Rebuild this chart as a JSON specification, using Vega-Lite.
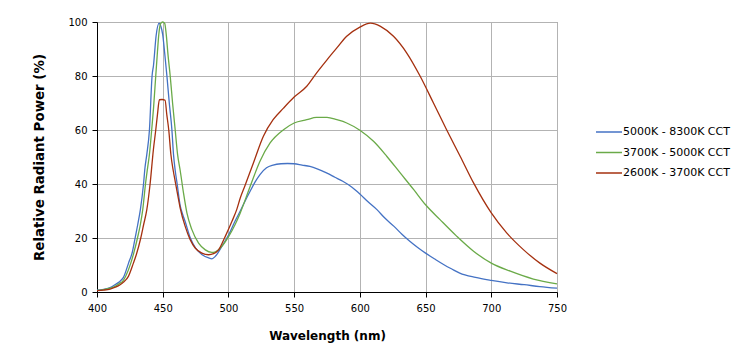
{
  "$schema": "https://vega.github.io/schema/vega-lite/v6.json",
  "autosize": "none",
  "width": 460,
  "height": 270,
  "padding": {"left": 97, "top": 22, "right": 186, "bottom": 72},
  "background": "white",
  "config": {
    "font": "DejaVu Sans",
    "view": {"stroke": "#868686", "strokeWidth": 1},
    "axis": {
      "labelFont": "DejaVu Sans", "labelFontSize": 10, "labelColor": "#000",
      "titleFont": "DejaVu Sans", "titleFontWeight": "bold", "titleColor": "#000",
      "domainColor": "#000", "tickColor": "#000", "tickSize": 5,
      "gridColor": "#b3b3b3", "gridWidth": 1, "labelPadding": 5, "labelFlush": false
    }
  },
  "data": {"values": [
    {"s":"5000K - 8300K CCT","w":400,"p":0.7},
    {"s":"5000K - 8300K CCT","w":405,"p":1.0},
    {"s":"5000K - 8300K CCT","w":410,"p":1.6},
    {"s":"5000K - 8300K CCT","w":414,"p":2.8},
    {"s":"5000K - 8300K CCT","w":417.6,"p":4.0},
    {"s":"5000K - 8300K CCT","w":420,"p":5.3},
    {"s":"5000K - 8300K CCT","w":424,"p":10.7},
    {"s":"5000K - 8300K CCT","w":427,"p":15},
    {"s":"5000K - 8300K CCT","w":429,"p":20},
    {"s":"5000K - 8300K CCT","w":431,"p":25},
    {"s":"5000K - 8300K CCT","w":433,"p":30.5},
    {"s":"5000K - 8300K CCT","w":435.4,"p":40},
    {"s":"5000K - 8300K CCT","w":436.5,"p":46},
    {"s":"5000K - 8300K CCT","w":437.9,"p":51},
    {"s":"5000K - 8300K CCT","w":439.9,"p":60},
    {"s":"5000K - 8300K CCT","w":441.9,"p":80},
    {"s":"5000K - 8300K CCT","w":443,"p":84},
    {"s":"5000K - 8300K CCT","w":445,"p":95},
    {"s":"5000K - 8300K CCT","w":447.3,"p":99.6},
    {"s":"5000K - 8300K CCT","w":448.5,"p":98.5},
    {"s":"5000K - 8300K CCT","w":450,"p":95.3},
    {"s":"5000K - 8300K CCT","w":451.4,"p":89},
    {"s":"5000K - 8300K CCT","w":453.2,"p":80},
    {"s":"5000K - 8300K CCT","w":455,"p":70},
    {"s":"5000K - 8300K CCT","w":457,"p":60},
    {"s":"5000K - 8300K CCT","w":458.2,"p":51},
    {"s":"5000K - 8300K CCT","w":459.5,"p":45},
    {"s":"5000K - 8300K CCT","w":461,"p":40},
    {"s":"5000K - 8300K CCT","w":463.3,"p":32},
    {"s":"5000K - 8300K CCT","w":465,"p":29},
    {"s":"5000K - 8300K CCT","w":467,"p":26.2},
    {"s":"5000K - 8300K CCT","w":471,"p":20},
    {"s":"5000K - 8300K CCT","w":475,"p":16.3},
    {"s":"5000K - 8300K CCT","w":480,"p":13.8},
    {"s":"5000K - 8300K CCT","w":485,"p":12.6},
    {"s":"5000K - 8300K CCT","w":487.5,"p":12.3},
    {"s":"5000K - 8300K CCT","w":490,"p":13.2},
    {"s":"5000K - 8300K CCT","w":495,"p":16.9},
    {"s":"5000K - 8300K CCT","w":500,"p":21},
    {"s":"5000K - 8300K CCT","w":505,"p":26.2},
    {"s":"5000K - 8300K CCT","w":509,"p":30},
    {"s":"5000K - 8300K CCT","w":513,"p":34},
    {"s":"5000K - 8300K CCT","w":516.5,"p":37.3},
    {"s":"5000K - 8300K CCT","w":520,"p":40.5},
    {"s":"5000K - 8300K CCT","w":524,"p":43.5},
    {"s":"5000K - 8300K CCT","w":529,"p":46},
    {"s":"5000K - 8300K CCT","w":534,"p":47},
    {"s":"5000K - 8300K CCT","w":540,"p":47.5},
    {"s":"5000K - 8300K CCT","w":545,"p":47.6},
    {"s":"5000K - 8300K CCT","w":550,"p":47.5},
    {"s":"5000K - 8300K CCT","w":556,"p":47},
    {"s":"5000K - 8300K CCT","w":562,"p":46.5},
    {"s":"5000K - 8300K CCT","w":568,"p":45.5},
    {"s":"5000K - 8300K CCT","w":575,"p":44},
    {"s":"5000K - 8300K CCT","w":581,"p":42.5},
    {"s":"5000K - 8300K CCT","w":587,"p":41},
    {"s":"5000K - 8300K CCT","w":594,"p":38.8},
    {"s":"5000K - 8300K CCT","w":600,"p":36.3},
    {"s":"5000K - 8300K CCT","w":606,"p":33.5},
    {"s":"5000K - 8300K CCT","w":613,"p":30.5},
    {"s":"5000K - 8300K CCT","w":619,"p":27.4},
    {"s":"5000K - 8300K CCT","w":626,"p":24.3},
    {"s":"5000K - 8300K CCT","w":632,"p":21.4},
    {"s":"5000K - 8300K CCT","w":638,"p":18.8},
    {"s":"5000K - 8300K CCT","w":644,"p":16.5},
    {"s":"5000K - 8300K CCT","w":650,"p":14.4},
    {"s":"5000K - 8300K CCT","w":657,"p":12.2},
    {"s":"5000K - 8300K CCT","w":664,"p":10.1},
    {"s":"5000K - 8300K CCT","w":670,"p":8.5},
    {"s":"5000K - 8300K CCT","w":676,"p":7},
    {"s":"5000K - 8300K CCT","w":688,"p":5.4},
    {"s":"5000K - 8300K CCT","w":700,"p":4.3},
    {"s":"5000K - 8300K CCT","w":712,"p":3.4},
    {"s":"5000K - 8300K CCT","w":725,"p":2.7},
    {"s":"5000K - 8300K CCT","w":737,"p":2},
    {"s":"5000K - 8300K CCT","w":750,"p":1.4},

    {"s":"3700K - 5000K CCT","w":400,"p":0.6},
    {"s":"3700K - 5000K CCT","w":405,"p":0.9},
    {"s":"3700K - 5000K CCT","w":410,"p":1.4},
    {"s":"3700K - 5000K CCT","w":414,"p":2.2},
    {"s":"3700K - 5000K CCT","w":417.6,"p":3.3},
    {"s":"3700K - 5000K CCT","w":419.6,"p":4.0},
    {"s":"3700K - 5000K CCT","w":422,"p":6},
    {"s":"3700K - 5000K CCT","w":425.7,"p":10.7},
    {"s":"3700K - 5000K CCT","w":428,"p":14.5},
    {"s":"3700K - 5000K CCT","w":430.8,"p":20},
    {"s":"3700K - 5000K CCT","w":433,"p":25},
    {"s":"3700K - 5000K CCT","w":434.8,"p":30.5},
    {"s":"3700K - 5000K CCT","w":436.9,"p":40},
    {"s":"3700K - 5000K CCT","w":438.5,"p":46},
    {"s":"3700K - 5000K CCT","w":439.9,"p":51},
    {"s":"3700K - 5000K CCT","w":441.6,"p":60},
    {"s":"3700K - 5000K CCT","w":443,"p":68},
    {"s":"3700K - 5000K CCT","w":444.7,"p":80},
    {"s":"3700K - 5000K CCT","w":446,"p":89},
    {"s":"3700K - 5000K CCT","w":447,"p":95.3},
    {"s":"3700K - 5000K CCT","w":448.5,"p":99.5},
    {"s":"3700K - 5000K CCT","w":450,"p":100},
    {"s":"3700K - 5000K CCT","w":451.5,"p":99.5},
    {"s":"3700K - 5000K CCT","w":452.7,"p":95.3},
    {"s":"3700K - 5000K CCT","w":454,"p":88},
    {"s":"3700K - 5000K CCT","w":455.7,"p":80},
    {"s":"3700K - 5000K CCT","w":457.5,"p":70},
    {"s":"3700K - 5000K CCT","w":459.5,"p":60},
    {"s":"3700K - 5000K CCT","w":461.3,"p":51},
    {"s":"3700K - 5000K CCT","w":463.3,"p":45},
    {"s":"3700K - 5000K CCT","w":465.8,"p":36.7},
    {"s":"3700K - 5000K CCT","w":468.4,"p":29.3},
    {"s":"3700K - 5000K CCT","w":472.2,"p":23.1},
    {"s":"3700K - 5000K CCT","w":477.3,"p":18.1},
    {"s":"3700K - 5000K CCT","w":482.4,"p":15.6},
    {"s":"3700K - 5000K CCT","w":487.4,"p":14.7},
    {"s":"3700K - 5000K CCT","w":490,"p":14.9},
    {"s":"3700K - 5000K CCT","w":495,"p":16.9},
    {"s":"3700K - 5000K CCT","w":500,"p":20.4},
    {"s":"3700K - 5000K CCT","w":505,"p":24.9},
    {"s":"3700K - 5000K CCT","w":509,"p":29.3},
    {"s":"3700K - 5000K CCT","w":516.5,"p":39.1},
    {"s":"3700K - 5000K CCT","w":524,"p":48.4},
    {"s":"3700K - 5000K CCT","w":531.7,"p":55.2},
    {"s":"3700K - 5000K CCT","w":541.9,"p":60.1},
    {"s":"3700K - 5000K CCT","w":550,"p":62.6},
    {"s":"3700K - 5000K CCT","w":559.6,"p":63.8},
    {"s":"3700K - 5000K CCT","w":567,"p":64.7},
    {"s":"3700K - 5000K CCT","w":575,"p":64.7},
    {"s":"3700K - 5000K CCT","w":582.5,"p":63.8},
    {"s":"3700K - 5000K CCT","w":590,"p":62.6},
    {"s":"3700K - 5000K CCT","w":600,"p":59.9},
    {"s":"3700K - 5000K CCT","w":610.4,"p":55.8},
    {"s":"3700K - 5000K CCT","w":620.6,"p":50.2},
    {"s":"3700K - 5000K CCT","w":630.7,"p":44.1},
    {"s":"3700K - 5000K CCT","w":641,"p":37.9},
    {"s":"3700K - 5000K CCT","w":650,"p":32.3},
    {"s":"3700K - 5000K CCT","w":661,"p":26.8},
    {"s":"3700K - 5000K CCT","w":673.8,"p":20.6},
    {"s":"3700K - 5000K CCT","w":686.5,"p":15.1},
    {"s":"3700K - 5000K CCT","w":700,"p":10.7},
    {"s":"3700K - 5000K CCT","w":714.5,"p":7.7},
    {"s":"3700K - 5000K CCT","w":732,"p":4.8},
    {"s":"3700K - 5000K CCT","w":750,"p":3},

    {"s":"2600K - 3700K CCT","w":400,"p":0.5},
    {"s":"2600K - 3700K CCT","w":405,"p":0.7},
    {"s":"2600K - 3700K CCT","w":410,"p":1.1},
    {"s":"2600K - 3700K CCT","w":414,"p":1.8},
    {"s":"2600K - 3700K CCT","w":417.6,"p":2.7},
    {"s":"2600K - 3700K CCT","w":420,"p":3.6},
    {"s":"2600K - 3700K CCT","w":423.9,"p":5.8},
    {"s":"2600K - 3700K CCT","w":427.7,"p":10.7},
    {"s":"2600K - 3700K CCT","w":430,"p":14},
    {"s":"2600K - 3700K CCT","w":433.3,"p":20},
    {"s":"2600K - 3700K CCT","w":435.5,"p":25},
    {"s":"2600K - 3700K CCT","w":437.9,"p":30.5},
    {"s":"2600K - 3700K CCT","w":440.4,"p":40},
    {"s":"2600K - 3700K CCT","w":442.9,"p":52.7},
    {"s":"2600K - 3700K CCT","w":444.7,"p":60},
    {"s":"2600K - 3700K CCT","w":446,"p":65.7},
    {"s":"2600K - 3700K CCT","w":447.5,"p":71.2},
    {"s":"2600K - 3700K CCT","w":449.5,"p":71.3},
    {"s":"2600K - 3700K CCT","w":451.8,"p":71},
    {"s":"2600K - 3700K CCT","w":453.1,"p":65.7},
    {"s":"2600K - 3700K CCT","w":454.6,"p":60},
    {"s":"2600K - 3700K CCT","w":456.2,"p":51},
    {"s":"2600K - 3700K CCT","w":458,"p":45},
    {"s":"2600K - 3700K CCT","w":459.5,"p":41},
    {"s":"2600K - 3700K CCT","w":461.4,"p":36},
    {"s":"2600K - 3700K CCT","w":463.3,"p":31.1},
    {"s":"2600K - 3700K CCT","w":467.1,"p":24.3},
    {"s":"2600K - 3700K CCT","w":470.9,"p":19.4},
    {"s":"2600K - 3700K CCT","w":474.7,"p":16.3},
    {"s":"2600K - 3700K CCT","w":479.8,"p":14.4},
    {"s":"2600K - 3700K CCT","w":484.9,"p":13.8},
    {"s":"2600K - 3700K CCT","w":488.7,"p":14.2},
    {"s":"2600K - 3700K CCT","w":492.5,"p":15.6},
    {"s":"2600K - 3700K CCT","w":497.6,"p":20.6},
    {"s":"2600K - 3700K CCT","w":502.7,"p":26.2},
    {"s":"2600K - 3700K CCT","w":506.3,"p":30.5},
    {"s":"2600K - 3700K CCT","w":509,"p":34.8},
    {"s":"2600K - 3700K CCT","w":512.7,"p":39.5},
    {"s":"2600K - 3700K CCT","w":519,"p":47.8},
    {"s":"2600K - 3700K CCT","w":526.6,"p":57.7},
    {"s":"2600K - 3700K CCT","w":534,"p":63.8},
    {"s":"2600K - 3700K CCT","w":541.9,"p":68.1},
    {"s":"2600K - 3700K CCT","w":550,"p":72.2},
    {"s":"2600K - 3700K CCT","w":559.6,"p":76.2},
    {"s":"2600K - 3700K CCT","w":567,"p":81.1},
    {"s":"2600K - 3700K CCT","w":575,"p":86},
    {"s":"2600K - 3700K CCT","w":582.5,"p":90.4},
    {"s":"2600K - 3700K CCT","w":590,"p":94.7},
    {"s":"2600K - 3700K CCT","w":600,"p":98.1},
    {"s":"2600K - 3700K CCT","w":608,"p":99.6},
    {"s":"2600K - 3700K CCT","w":615.7,"p":98.4},
    {"s":"2600K - 3700K CCT","w":625.6,"p":94.7},
    {"s":"2600K - 3700K CCT","w":635.7,"p":88.5},
    {"s":"2600K - 3700K CCT","w":645.9,"p":79.9},
    {"s":"2600K - 3700K CCT","w":656,"p":70},
    {"s":"2600K - 3700K CCT","w":666,"p":60.1},
    {"s":"2600K - 3700K CCT","w":676.4,"p":50.2},
    {"s":"2600K - 3700K CCT","w":686.5,"p":40.4},
    {"s":"2600K - 3700K CCT","w":700,"p":29.3},
    {"s":"2600K - 3700K CCT","w":711.7,"p":21.9},
    {"s":"2600K - 3700K CCT","w":724.4,"p":15.7},
    {"s":"2600K - 3700K CCT","w":737,"p":10.7},
    {"s":"2600K - 3700K CCT","w":750,"p":6.8}
  ]},
  "mark": {"type": "line", "strokeWidth": 1.3, "interpolate": "monotone"},
  "encoding": {
    "x": {"field": "w", "type": "quantitative", "title": "Wavelength (nm)",
      "scale": {"domain": [400, 750], "nice": false, "zero": false},
      "axis": {"values": [400, 450, 500, 550, 600, 650, 700, 750], "titlePadding": 17, "labelPadding": 6, "titleFontSize": 12}},
    "y": {"field": "p", "type": "quantitative", "title": "Relative Radiant Power (%)",
      "scale": {"domain": [0, 100], "nice": false},
      "axis": {"values": [0, 20, 40, 60, 80, 100], "titlePadding": 21, "titleFontSize": 13.4}},
    "color": {"field": "s", "type": "nominal",
      "scale": {"domain": ["5000K - 8300K CCT", "3700K - 5000K CCT", "2600K - 3700K CCT"],
                "range": ["#4472C4", "#6AAA48", "#A5300F"]},
      "legend": {"title": null, "orient": "none", "legendX": 498, "legendY": 96,
        "symbolType": "stroke", "symbolSize": 676, "symbolStrokeWidth": 1.5,
        "labelFont": "DejaVu Sans", "labelFontSize": 11, "labelColor": "#000",
        "labelOffset": 0, "rowPadding": 1.5}},
    "order": {"field": "w", "type": "quantitative"}
  }
}
